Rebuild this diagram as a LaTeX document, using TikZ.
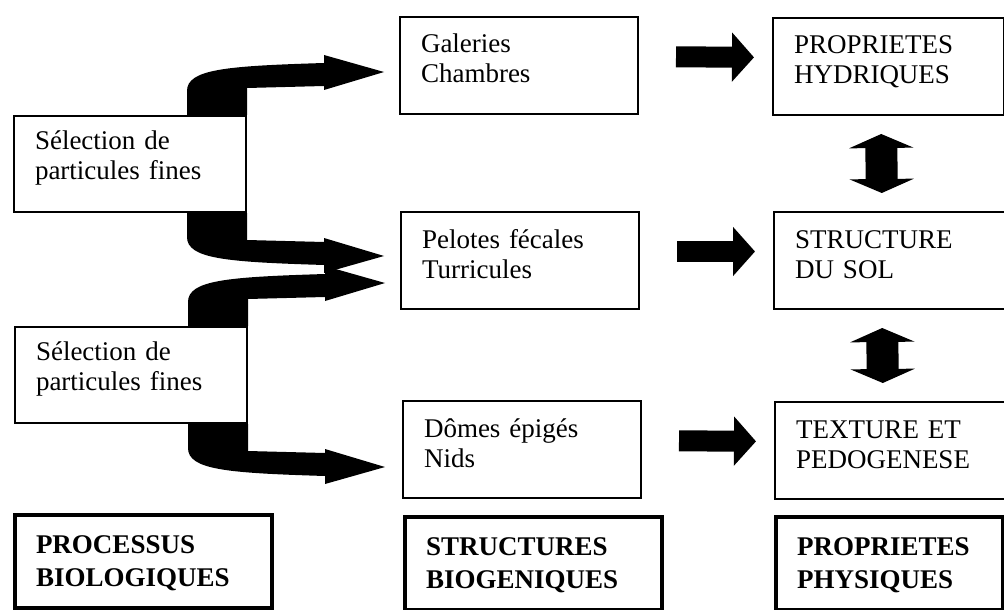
\documentclass[tikz,border=0pt]{standalone}
\usepackage{fontspec}
\setmainfont{Liberation Serif}
\usetikzlibrary{arrows.meta}

\newcommand{\boxfont}{\fontsize{13.5}{15}\selectfont}
\newcommand{\headfont}{\fontsize{13.5}{16.5}\selectfont\bfseries}

\tikzset{
  box/.style={draw, line width=1pt, fill=white, anchor=north west, align=left,
    inner xsep=10.5pt, inner ysep=0pt, text height=18pt, text depth=30.5pt, font=\boxfont},
  selbox/.style={box, text height=16.5pt, text depth=31.5pt, text width=95pt},
  headbox/.style={box, line width=2pt, text height=19pt, text depth=27.5pt, font=\headfont},
  fat/.style={line width=10.5pt, -{Triangle[length=11pt,width=24pt]}, shorten <=18.5pt, shorten >=9pt},
  dbl/.style={line width=16pt, {Triangle[length=7pt,width=32pt]}-{Triangle[length=7pt,width=32pt]},
    shorten <=9pt, shorten >=9pt}
}

\begin{document}
\begin{tikzpicture}[x=0.5pt,y=-0.5pt]
            \useasboundingbox (0,0) rectangle (1004,609);
            \node[selbox] (sel1) at (13,115) {Sélection de\\particules fines};
            \node[selbox] (sel2) at (14,326) {Sélection de\\particules fines};
            \node[box,text width=98pt] (gal) at (399,16) {Galeries\\Chambres};
            \node[box,text width=98pt] (pel) at (400,211) {Pelotes fécales\\Turricules};
            \node[box,text width=98pt] (dom) at (402,400) {Dômes épigés\\Nids};
            \node[box,text width=94.5pt] (hyd) at (772,17) {PROPRIETES\\HYDRIQUES};
            \node[box,text width=94.5pt] (sol) at (773,211) {STRUCTURE\\DU SOL};
            \node[box,text width=94.5pt] (tex) at (774,401) {TEXTURE ET\\PEDOGENESE};
            \node[headbox,text width=107.5pt] (proc) at (13,513) {PROCESSUS\\BIOLOGIQUES};
            \node[headbox,text width=107.5pt] (bio) at (403,515) {STRUCTURES\\BIOGENIQUES};
            \node[headbox,text width=92.5pt] (phy) at (774,515) {PROPRIETES\\PHYSIQUES};
            \foreach \a/\s in {sel1.north east/1, sel1.south east/-1, sel2.north east/1, sel2.south east/-1}
              \fill[shift={(\a)},yscale=\s] (0,0) -- (0,-27) -- (77,-29) -- (77,-25) -- (137,-43)
                -- (77,-60) -- (77,-52) .. controls (-20,-49) and (-60,-46) .. (-60,-24) -- (-60,0) -- cycle;
            \draw[fat] ([yshift=4.5pt]gal.east) -- ([yshift=4.5pt]hyd.west);
            \draw[fat] ([yshift=4.5pt]pel.east) -- ([yshift=4.5pt]sol.west);
            \draw[fat] ([yshift=4.5pt]dom.east) -- ([yshift=4.5pt]tex.west);
            \draw[dbl] ([xshift=-3.75pt]hyd.south) -- ([xshift=-3.75pt]sol.north);
            \draw[dbl] ([xshift=-3.75pt]sol.south) -- ([xshift=-3.75pt]tex.north);
          \end{tikzpicture}
\end{document}
